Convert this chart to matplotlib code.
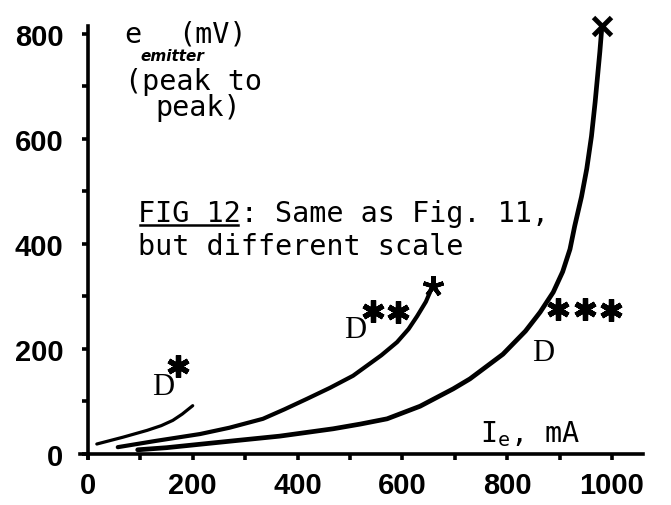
import matplotlib
matplotlib.use("Agg")
import matplotlib.pyplot as plt
from matplotlib.lines import Line2D

plt.rcParams["mathtext.fontset"] = "custom"
plt.rcParams["mathtext.rm"] = "DejaVu Sans Mono"
plt.rcParams["mathtext.it"] = "DejaVu Sans Mono"

# ---- data ----
curve_a_x = [17, 67, 113, 140, 162, 180, 200]
curve_a_y = [19, 32, 45, 54, 64, 76, 92]

curve_b_x = [57, 130, 214, 270, 334, 375, 418, 462, 506, 560, 590, 612, 628, 645, 658]
curve_b_y = [13, 25, 38, 50, 67, 85, 105, 126, 149, 188, 213, 238, 262, 290, 320]

curve_c_x = [95, 150, 277, 366, 468, 520, 571, 634, 697, 729, 792, 835, 863, 888, 906,
             920, 929, 942, 952, 961, 968, 977, 981]
curve_c_y = [8, 12, 25, 34, 48, 57, 67, 91, 124, 143, 190, 234, 270, 308, 347,
             390, 434, 490, 543, 605, 670, 766, 815]

d_label_x = [143, 510, 868]
d_label_y = [128, 238, 194]
d_labels = ["D", "D", "D"]

star_x = [172, 544, 592, 897, 948, 998]
star_y = [168, 272, 270, 276, 276, 274]

x_ticks = [0, 200, 400, 600, 800, 1000]
x_minor = [100, 300, 500, 700, 900]
y_ticks = [0, 200, 400, 600, 800]
y_minor = [100, 300, 500, 700]

mono = "DejaVu Sans Mono"
tfs = 20.5

fig = plt.figure(figsize=(6.71, 5.06), dpi=100)
ax = fig.add_axes([0.1193, 0.0925, 0.958 - 0.1193, 0.9466 - 0.0925])
ax.set_xlim(-15, 1059)
ax.set_ylim(-8, 815)

for s in ("top", "right"):
    ax.spines[s].set_visible(False)
ax.spines["left"].set_position(("data", 0))
ax.spines["bottom"].set_position(("data", 0))
ax.spines["left"].set_linewidth(2.6)
ax.spines["bottom"].set_linewidth(2.6)

ax.set_xticks(x_ticks)
ax.set_xticks(x_minor, minor=True)
ax.set_yticks(y_ticks)
ax.set_yticks(y_minor, minor=True)
ax.set_xticklabels([str(v) for v in x_ticks], fontfamily="Liberation Sans",
                   fontsize=21, fontweight="bold")
ax.set_yticklabels([str(v) for v in y_ticks], fontfamily="Liberation Sans",
                   fontsize=21, fontweight="bold")
ax.tick_params(axis="x", which="both", direction="out", length=4.5, width=2.6, pad=8)
ax.tick_params(axis="y", which="both", direction="out", length=4.5, width=2.6, pad=13)

# curves
ax.plot(curve_a_x, curve_a_y, color="black", lw=2.3, solid_capstyle="round",
        solid_joinstyle="round")
ax.plot(curve_b_x, curve_b_y, color="black", lw=3.0, solid_capstyle="round",
        solid_joinstyle="round")
ax.plot(curve_c_x, curve_c_y, color="black", lw=3.4, solid_capstyle="round",
        solid_joinstyle="round")
# end markers
ax.plot(curve_b_x[-1:], curve_b_y[-1:], ls="none", marker=(5, 2, 0), ms=15,
        mew=3, color="black", clip_on=False)
ax.plot(curve_c_x[-1:], curve_c_y[-1:], ls="none", marker="x", ms=13,
        mew=3.5, color="black", clip_on=False)

# D-labels and stars
for lx, ly, lab in zip(d_label_x, d_label_y, d_labels):
    ax.text(lx, ly, lab, fontfamily="Liberation Serif", fontsize=22,
            ha="center", va="center")
ax.plot(star_x, star_y, ls="none", marker=(6, 2, 0), ms=16, mew=3.8, color="black")

# y-axis label (typewriter style)
ax.text(70, 785, "e", fontfamily=mono, fontsize=tfs, ha="left", va="baseline")
ax.text(100, 751, "emitter", fontfamily="DejaVu Sans", fontstyle="italic",
        fontweight="bold", fontsize=11, ha="left", va="baseline")
ax.text(172, 785, "(mV)", fontfamily=mono, fontsize=tfs, ha="left", va="baseline")
ax.text(70, 695, "(peak to", fontfamily=mono, fontsize=tfs, ha="left", va="baseline")
ax.text(128, 646, "peak)", fontfamily=mono, fontsize=tfs, ha="left", va="baseline")

# x-axis label
ax.text(748, 25, r"I$_\mathregular{e}$, mA", fontfamily=mono, fontsize=tfs,
        ha="left", va="baseline")

# caption
ax.text(95, 444, "FIG 12: Same as Fig. 11,", fontfamily=mono, fontsize=tfs,
        ha="left", va="baseline")
ax.text(95, 381, "but different scale", fontfamily=mono, fontsize=tfs,
        ha="left", va="baseline")
under = ax.text(95, 444, "FIG 12", fontfamily=mono, fontsize=tfs,
                ha="left", va="baseline", alpha=0)

fig.canvas.draw()
bb = under.get_window_extent(renderer=fig.canvas.get_renderer())
base = ax.transData.transform((95, 444))[1]
y_line = base - 4
inv = fig.transFigure.inverted()
p0 = inv.transform((bb.x0 + 2, y_line))
p1 = inv.transform((bb.x1 - 2, y_line))
fig.add_artist(Line2D([p0[0], p1[0]], [p0[1], p1[1]], color="black", lw=1.8,
                      transform=fig.transFigure))

fig.savefig("out.png", dpi=100)
